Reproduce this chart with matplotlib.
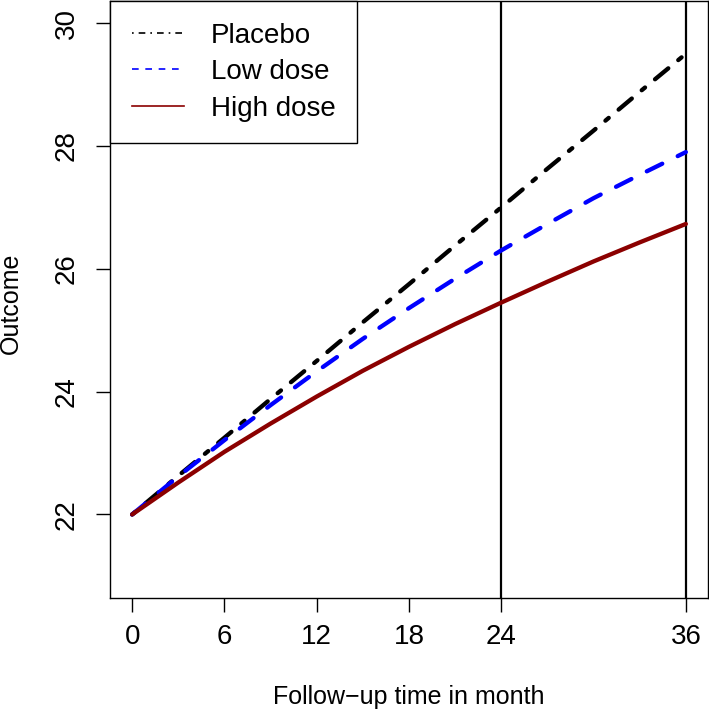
import matplotlib
matplotlib.use("Agg")
import matplotlib.pyplot as plt
from matplotlib.lines import Line2D

# --- Data ---
months = [0, 3, 6, 9, 12, 15, 18, 21, 24, 27, 30, 33, 36]
placebo = [22.0, 22.63, 23.25, 23.88, 24.5, 25.13, 25.75, 26.38, 27.0, 27.63, 28.25, 28.88, 29.5]
low_dose = [22.0, 22.62, 23.21, 23.78, 24.33, 24.86, 25.36, 25.84, 26.30, 26.73, 27.15, 27.53, 27.90]
high_dose = [22.0, 22.52, 23.02, 23.48, 23.92, 24.34, 24.73, 25.10, 25.45, 25.79, 26.12, 26.43, 26.73]

x_ticks = [0, 6, 12, 18, 24, 36]
y_ticks = [22, 24, 26, 28, 30]
ref_lines = [24, 36]

series_labels = ["Placebo", "Low dose", "High dose"]
series_colours = ["black", "#0000FF", "#8B0000"]
series_styles = [(0, (1, 3, 4, 3)), (0, (4, 4)), "-"]

plt.rcParams["font.family"] = ["Liberation Sans", "DejaVu Sans"]

fig = plt.figure(figsize=(7.09, 7.14), dpi=100)
ax = fig.add_axes([110 / 709, 1 - 598 / 714, 598 / 709, 597 / 714])

for values, colour, style in zip([placebo, low_dose, high_dose], series_colours, series_styles):
    ax.plot(months, values, color=colour, linestyle=style, linewidth=3.1,
            dash_capstyle="round", solid_capstyle="round", zorder=3)

for xv in ref_lines:
    ax.axvline(xv, color="black", linewidth=1.6, zorder=2)

ax.set_xlim(-1.44, 37.44)
ax.set_ylim(20.64, 30.36)
ax.set_xticks(x_ticks)
ax.set_yticks(y_ticks)
ax.set_yticklabels([str(v) for v in y_ticks], rotation=90, va="center")
ax.tick_params(axis="x", length=10, width=1, pad=9, labelsize=20)
ax.tick_params(axis="y", length=10, width=1, pad=12, labelsize=20)
for spine in ax.spines.values():
    spine.set_linewidth(1)

ax.set_xlabel("Follow\u2212up time in month", fontsize=18, va="center")
ax.set_ylabel("Outcome", fontsize=18, va="center")
ax.xaxis.set_label_coords(0.5, -99 / 597)
ax.yaxis.set_label_coords(-99 / 598, 0.494)

# Legend samples are drawn thin like in the reference
handles = [
    Line2D([], [], color=c, linestyle=s, linewidth=1.2)
    for c, s in zip(series_colours, series_styles)
]
leg = ax.legend(handles, series_labels, loc="upper left", fontsize=20,
                frameon=True, fancybox=False, edgecolor="black", framealpha=1,
                borderaxespad=0, borderpad=0.78, handlelength=1.9,
                handletextpad=0.95, labelspacing=0.38)
leg.get_frame().set_linewidth(1)

fig.savefig("out.png", dpi=100)
plt.close(fig)
